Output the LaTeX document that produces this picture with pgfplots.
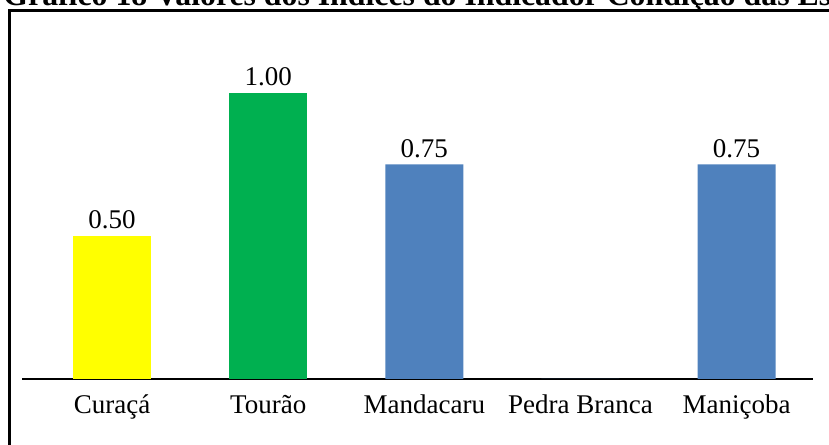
\documentclass[border=0pt]{standalone}
\usepackage{pgfplots}
\pgfplotsset{compat=1.18}
\usepackage{fontspec}
\setmainfont{Liberation Serif}
\definecolor{cyel}{HTML}{FFFF00}
\definecolor{cgrn}{HTML}{00B050}
\definecolor{cblu}{HTML}{4F81BD}
\begin{document}
\begin{tikzpicture}
\useasboundingbox (0,0) rectangle (414.5pt,222pt);
\clip (0,0) rectangle (414.5pt,222pt);
\draw[line width=1.5pt] (4.75pt,-5pt) rectangle (430pt,216.5pt);
\node[anchor=base west, inner sep=0pt, font=\fontsize{15.9}{18}\selectfont\bfseries] at (1.5pt,219pt)
  {Gráfico 18 Valores dos Índices do Indicador Condição das Estruturas};
\begin{axis}[
  at={(11pt,32.5pt)}, anchor=south west,
  scale only axis, width=395.5pt, height=171.6pt,
  ymin=0, ymax=1.2, xmin=-0.577, xmax=4.49,
  axis x line=bottom, axis y line=none,
  axis line style={line width=1pt,-},
  xtick={0,1,2,3,4},
  xticklabels={Curaçá,Tourão,Mandacaru,Pedra Branca,Maniçoba},
  major tick length=0pt,
  xticklabel style={anchor=base, yshift=-17pt, font=\fontsize{13.5}{16}\selectfont},
  /pgf/number format/assume math mode=true,
  every node near coord/.append style={font=\fontsize{13.5}{16}\selectfont},
  clip=false,
]
\addplot[ybar, bar shift=0pt, bar width=39pt, fill=cyel, draw=none,
  nodes near coords={\pgfmathprintnumber[fixed,fixed zerofill,precision=2]{\pgfplotspointmeta}}]
  coordinates {(0,0.50)};
\addplot[ybar, bar shift=0pt, bar width=39pt, fill=cgrn, draw=none,
  nodes near coords={\pgfmathprintnumber[fixed,fixed zerofill,precision=2]{\pgfplotspointmeta}}]
  coordinates {(1,1.00)};
\addplot[ybar, bar shift=0pt, bar width=39pt, fill=cblu, draw=none,
  nodes near coords={\pgfmathprintnumber[fixed,fixed zerofill,precision=2]{\pgfplotspointmeta}}]
  coordinates {(2,0.75) (4,0.75)};
\addplot[ybar, bar shift=0pt, bar width=39pt, fill=cblu, draw=none]
  coordinates {(3,0)};
\end{axis}
\end{tikzpicture}
\end{document}
